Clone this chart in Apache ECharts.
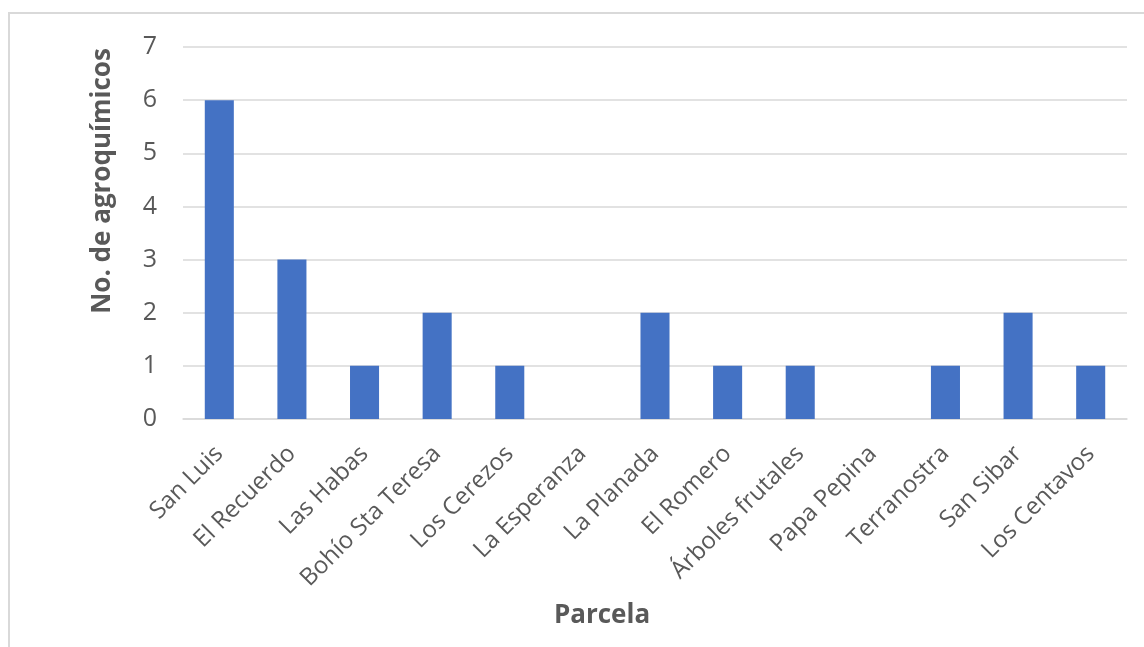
<!DOCTYPE html>
<html><head><meta charset="utf-8">
<script src="https://cdn.jsdelivr.net/npm/echarts@6/dist/echarts.min.js"></script>
<style>
html,body{margin:0;padding:0;background:#fff;}
#frame{position:absolute;left:8px;top:12px;width:1200px;height:700px;border:2px solid #d9d9d9;box-sizing:border-box;}
#c{position:absolute;left:0;top:0;width:1144px;height:647px;}
</style></head>
<body>
<div id="frame"></div>
<div id="c"></div>
<script>
var categories = ["San Luis","El Recuerdo","Las Habas","Bohío Sta Teresa","Los Cerezos","La Esperanza","La Planada","El Romero","Árboles frutales","Papa Pepina","Terranostra","San Sibar","Los Centavos"];
var values = [6,3,1,2,1,0,2,1,1,0,1,2,1];
var yTitle = "No. de agroquímicos";
var xTitle = "Parcela";

var chart = echarts.init(document.getElementById('c'), null, {renderer:'canvas'});
var font = "'Open Sans', sans-serif";
chart.setOption({
  animation:false,
  backgroundColor:'transparent',
  grid:{left:183,right:17,top:47,bottom:228,containLabel:false},
  xAxis:{
    type:'category',
    data:categories,
    axisLine:{show:true,lineStyle:{color:'#d9d9d9',width:1.5}},
    axisTick:{show:false},
    axisLabel:{rotate:45,interval:0,color:'#595959',fontSize:24,fontFamily:font,margin:31}
  },
  yAxis:{
    type:'value',min:0,max:7,interval:1,
    axisLine:{show:false},axisTick:{show:false},
    axisLabel:{color:'#595959',fontSize:25,fontFamily:font,margin:26},
    splitLine:{lineStyle:{color:'#d9d9d9',width:1.5}}
  },
  graphic:[
    {type:'text',x:103,y:181,rotation:Math.PI/2,style:{text:yTitle,fill:'#595959',align:'center',verticalAlign:'middle',font:"bold 26px 'Open Sans', sans-serif"}},
    {type:'text',x:602,y:616,style:{text:xTitle,fill:'#595959',align:'center',verticalAlign:'middle',font:"bold 26px 'Open Sans', sans-serif"}}
  ],
  series:[{type:'bar',data:values,barWidth:'40%',itemStyle:{color:'#4472C4'}}]
});
</script>
</body></html>
